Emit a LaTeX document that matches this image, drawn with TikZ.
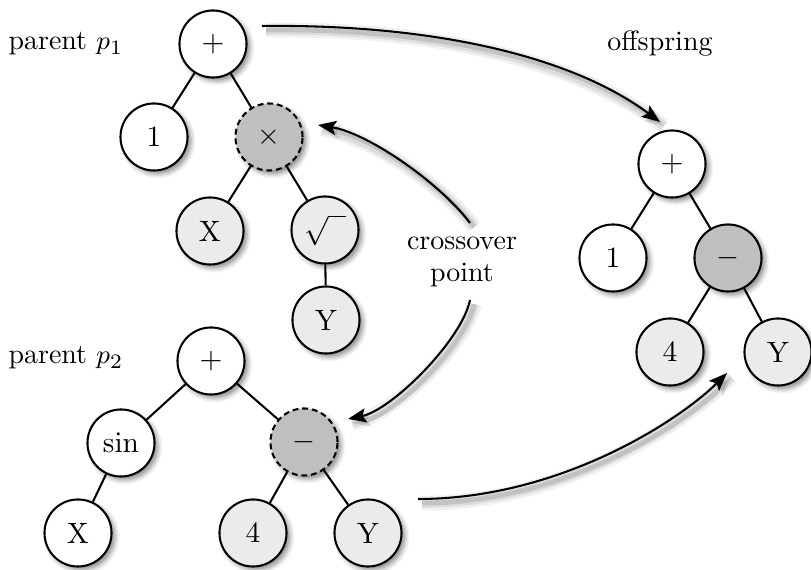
\documentclass[tikz,border=0pt]{standalone}
\usetikzlibrary{arrows.meta,shadows.blur}
\begin{document}
\begin{tikzpicture}[x=0.34pt,y=-0.34pt,
  tnode/.style={circle, draw, line width=0.7pt, minimum size=22.8pt, inner sep=0pt, fill=white,
    blur shadow={shadow xshift=1.2pt, shadow yshift=-1.2pt, shadow blur radius=1.6pt, shadow opacity=45}},
  leaf/.style={tnode, fill=black!8},
  sel/.style={tnode, fill=black!25, dash pattern=on 2pt off 1.3pt},
  cut/.style={tnode, fill=black!25},
  link/.style={line width=0.7pt},
  cshadow/.style={
    preaction={draw, black, opacity=0.06, line width=5pt, arrows=-, transform canvas={xshift=1.4pt,yshift=-1.4pt}},
    preaction={draw, black, opacity=0.08, line width=3.2pt, arrows=-, transform canvas={xshift=1.4pt,yshift=-1.4pt}},
    preaction={draw, black, opacity=0.12, line width=1.6pt, transform canvas={xshift=1.4pt,yshift=-1.4pt}}},
  arr/.style={line width=0.7pt, -{Stealth[length=6.2pt,width=4.8pt,inset=1.2pt]}, cshadow},
  lbl/.style={inner sep=0pt, font=\fontsize{9.5}{11}\selectfont}
]
\useasboundingbox (0,0) rectangle (811,570);

% parent p1
\node[tnode] (a1) at (213,44) {$+$};
\node[tnode] (a2) at (154,137) {$1$};
\node[sel]   (a3) at (269,137) {$\times$};
\node[leaf]  (a4) at (210,231) {X};
\node[leaf]  (a5) at (325,230) {$\sqrt{\phantom{x}}$};
\node[leaf]  (a6) at (326,320) {Y};

% parent p2
\node[tnode] (b1) at (211,361) {$+$};
\node[tnode] (b2) at (121,443) {$\sin$};
\node[sel]   (b3) at (304,442) {$-$};
\node[tnode] (b4) at (78,533) {X};
\node[leaf]  (b5) at (253,533) {4};
\node[leaf]  (b6) at (368,533) {Y};

% offspring
\node[tnode] (c1) at (672,164) {$+$};
\node[tnode] (c2) at (613,258) {1};
\node[cut]   (c3) at (728,258) {$-$};
\node[leaf]  (c4) at (670,352) {4};
\node[leaf]  (c5) at (778,352) {Y};

% tree edges
\draw[link] (a1) -- (a2);
\draw[link] (a1) -- (a3);
\draw[link] (a3) -- (a4);
\draw[link] (a3) -- (a5);
\draw[link] (a5) -- (a6);
\draw[link] (b1) -- (b2);
\draw[link] (b1) -- (b3);
\draw[link] (b2) -- (b4);
\draw[link] (b3) -- (b5);
\draw[link] (b3) -- (b6);
\draw[link] (c1) -- (c2);
\draw[link] (c1) -- (c3);
\draw[link] (c3) -- (c4);
\draw[link] (c3) -- (c5);

% labels
\node[lbl, anchor=west] (l1) at (8,44) {parent $p_1$};
\node[lbl] (l2) at (660,44) {offspring};
\node[lbl, align=center] (l3) at (462,262) {crossover\\point};
\node[lbl, anchor=west] (l4) at (8,358) {parent $p_2$};

% arrows
\coordinate (s1) at (262,26);  \coordinate (t1) at (660,122);
\coordinate (s2) at (470,223); \coordinate (t2) at (318,125);
\coordinate (s3) at (470,300); \coordinate (t3) at (348,419);
\coordinate (s4) at (418,499); \coordinate (t4) at (727,373);
\draw[arr] (s1) .. controls (430,24) and (570,55) .. (t1);
\draw[arr] (s2) .. controls (440,183) and (368,133) .. (t2);
\draw[arr] (s3) .. controls (462,340) and (392,410) .. (t3);
\draw[arr] (s4) .. controls (560,499) and (680,420) .. (t4);
\end{tikzpicture}
\end{document}
